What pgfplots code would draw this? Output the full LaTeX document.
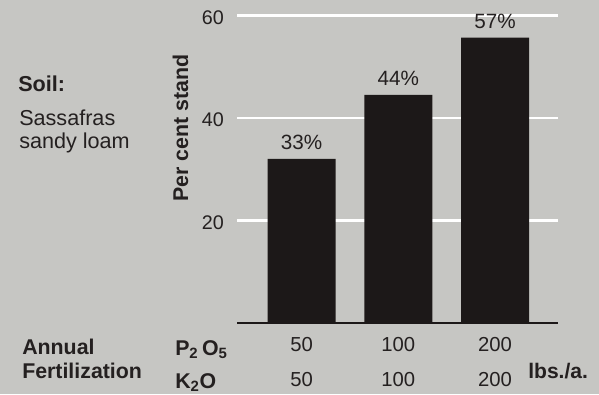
\documentclass[border=0pt]{standalone}
\usepackage{fontspec}
\setmainfont{Liberation Sans}
\usepackage{pgfplots}
\pgfplotsset{compat=1.18}
\definecolor{bg}{RGB}{198,198,195}
\definecolor{barc}{RGB}{28,24,24}
\definecolor{ink}{RGB}{36,32,32}
\begin{document}
\begin{tikzpicture}
\begin{scope}[x=0.75pt,y=-0.75pt,yshift=295.5pt]
\fill[bg] (0,0) rectangle (599,394);
\end{scope}
\begin{axis}[
  at={(177.75pt,53.625pt)}, anchor=south west,
  scale only axis, width=240.75pt, height=230.1pt,
  xmin=0.333, xmax=3.65, ymin=0, ymax=60,
  axis x line=bottom, axis y line=left,
  x axis line style={-, line width=1.5pt, draw=barc},
  y axis line style={draw=none},
  major tick length=0pt,
  ytick={20,40,60}, ymajorgrids,
  major grid style={white, line width=2pt},
  yticklabel style={anchor=east, inner sep=0pt, xshift=-9.75pt, yshift=-1.5pt,
    font=\fontsize{14.8}{16}\selectfont, text=ink},
  /pgf/number format/assume math mode=true,
  xtick={1,2,3},
  xticklabels={{50\\50},{100\\100},{200\\200}},
  xticklabel style={align=center, anchor=north, inner sep=0pt, yshift=-11pt,
    font=\fontsize{15.2}{26.5}\selectfont, text=ink},
  clip=false,
]
\addplot[ybar, bar width=51pt, fill=barc, draw=none,
  nodes near coords, point meta=explicit symbolic,
  every node near coord/.append style={inner sep=0pt, yshift=6.75pt,
    font=\fontsize{15.5}{18}\selectfont, text=ink}]
  coordinates {(1,32.0) [33\%] (2,44.5) [44\%] (3,55.7) [57\%]};
\end{axis}
\begin{scope}[x=0.75pt,y=-0.75pt,yshift=295.5pt,
  every node/.style={inner sep=0pt, text=ink}]
\node[anchor=base west, font=\fontsize{16.2}{18}\selectfont\bfseries] at (18,91) {Soil:};
\node[anchor=base west, font=\fontsize{16.2}{18}\selectfont] at (19,125) {Sassafras};
\node[anchor=base west, font=\fontsize{16.2}{18}\selectfont] at (19,148) {sandy loam};
\node[anchor=base west, font=\fontsize{16}{18}\selectfont\bfseries] at (22,354) {Annual};
\node[anchor=base west, font=\fontsize{16}{18}\selectfont\bfseries] at (22,378) {Fertilization};
\node[anchor=base west, font=\fontsize{16}{18}\selectfont\bfseries] at (175,355) {P\textsubscript{2}\,O\textsubscript{5}};
\node[anchor=base west, font=\fontsize{16}{18}\selectfont\bfseries] at (175,388) {K\textsubscript{2}O};
\node[anchor=base west, font=\fontsize{15.8}{18}\selectfont\bfseries] at (528,378) {lbs./a.};
\node[anchor=base, rotate=90, font=\fontsize{16}{18}\selectfont\bfseries] at (188,128) {Per cent stand};
\end{scope}
\pgfresetboundingbox
\path[use as bounding box] (0,0) rectangle (449.25pt,295.5pt);
\end{tikzpicture}
\end{document}
